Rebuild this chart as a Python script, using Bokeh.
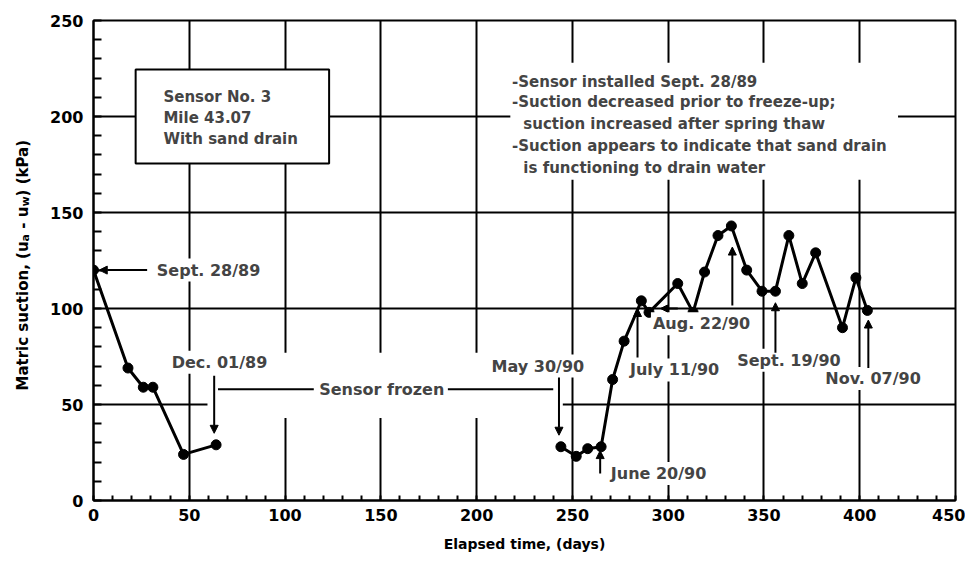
import math
from bokeh.plotting import figure
from bokeh.layouts import row
from bokeh.models import Label, Arrow, NormalHead, SingleIntervalTicker, Range1d
from bokeh.core.properties import value
from bokeh.embed import file_html
from bokeh.resources import INLINE

# ---------------- data ----------------
days_fall = [0, 18, 26, 31, 47, 64]
suction_fall = [120, 69, 59, 59, 24, 29]
days_thaw = [244, 252, 258, 265, 271, 277, 286, 290, 305, 313, 319, 326, 333,
             341, 349, 356, 363, 370, 377, 391, 398, 404]
suction_thaw = [28, 23, 27, 28, 63, 83, 104, 98, 113, 98, 119, 138, 143,
                120, 109, 109, 138, 113, 129, 90, 116, 99]

x_ticks_interval = 50
y_ticks_interval = 50

date_labels = ["Sept. 28/89", "Dec. 01/89", "May 30/90", "June 20/90",
               "July 11/90", "Aug. 22/90", "Sept. 19/90", "Nov. 07/90"]
box_lines = ["Sensor No. 3", "Mile 43.07", "With sand drain"]
note_lines = ["-Sensor installed Sept. 28/89",
              "-Suction decreased prior to freeze-up;",
              "suction increased after spring thaw",
              "-Suction appears to indicate that sand drain",
              "is functioning to drain water"]
ylabel_pieces = ["Matric suction, (u", "a", "- u", "w", ") (kPa)"]

FONT = "DejaVu Sans"
H = 555
LW = 40  # width of the strip holding the y-axis title
FRAME_TOP, FRAME_BOTTOM = 20, 500

p = figure(width=965 - LW, height=H, x_range=Range1d(0, 450), y_range=Range1d(0, 250),
           output_backend="svg", toolbar_location=None,
           min_border_left=93 - LW, min_border_right=10, min_border_top=FRAME_TOP,
           min_border_bottom=H - FRAME_BOTTOM)
p.background_fill_color = "white"
p.border_fill_color = "white"
p.outline_line_color = "black"
p.outline_line_width = 2

# grids
p.xgrid.ticker = SingleIntervalTicker(interval=x_ticks_interval)
p.ygrid.ticker = SingleIntervalTicker(interval=y_ticks_interval)
for g in (p.xgrid, p.ygrid):
    g.grid_line_color = "black"
    g.grid_line_width = 2
    g.grid_line_alpha = 1.0

# axes
p.xaxis.ticker = SingleIntervalTicker(interval=x_ticks_interval, num_minor_ticks=5)
p.yaxis.ticker = SingleIntervalTicker(interval=y_ticks_interval, num_minor_ticks=5)
for ax in (p.xaxis, p.yaxis):
    ax.axis_line_color = "black"
    ax.axis_line_width = 2
    ax.major_tick_in = 0
    ax.major_tick_out = 0
    ax.minor_tick_out = 0
    ax.minor_tick_line_color = "black"
    ax.minor_tick_line_width = 2
    ax.major_label_text_font = FONT
    ax.major_label_text_font_style = "bold"
    ax.major_label_text_font_size = "16px"
    ax.major_label_text_color = "black"
p.xaxis.minor_tick_in = 5
p.yaxis.minor_tick_in = 8
p.xaxis.major_label_standoff = 8
p.yaxis.major_label_standoff = 10
p.xaxis.axis_label = "Elapsed time, (days)"
p.xaxis.axis_label_text_font = FONT
p.xaxis.axis_label_text_font_style = "bold"
p.xaxis.axis_label_text_font_size = "14px"
p.xaxis.axis_label_text_color = "black"
p.xaxis.axis_label_standoff = 12

# white masks that interrupt the grid (as in the drafted original)
p.quad(left=[217.6], right=[420], bottom=[167], top=[228], fill_color="white", line_color=None)
p.quad(left=[59.5], right=[245], bottom=[43], top=[77], fill_color="white", line_color=None)

# info box
p.quad(left=[22], right=[123], bottom=[175.5], top=[224.5], fill_color="white",
       line_color="black", line_width=2)
for i, t in enumerate(box_lines):
    p.add_layout(Label(x=36.5, y=210.4 - i * 11, text=t, text_font=FONT, text_font_style="bold",
                       text_font_size="15px", text_baseline="middle", text_align="left"))

# notes
note_y = [218, 207.5, 196, 184.7, 173.4]
note_x = [218.5, 218.5, 224.4, 218.5, 224.4]
for t, xx, yy in zip(note_lines, note_x, note_y):
    p.add_layout(Label(x=xx, y=yy, text=t, text_font=FONT, text_font_style="bold",
                       text_font_size="15px", text_baseline="middle", text_align="left"))

# data
p.line(days_fall, suction_fall, line_color="black", line_width=3)
p.line(days_thaw, suction_thaw, line_color="black", line_width=3)
p.scatter(days_fall, suction_fall, size=10, fill_color="black", line_color="black")
p.scatter(days_thaw, suction_thaw, size=10, fill_color="black", line_color="black")

# "Sensor frozen" lines
p.segment(x0=[65, 185], y0=[58, 58], x1=[115, 240], y1=[58, 58], line_color="black", line_width=2)
p.add_layout(Label(x=150.5, y=58, text="Sensor frozen", text_font=FONT, text_font_style="bold",
                   text_font_size="16px", text_baseline="middle", text_align="center"))

# date annotations: (label x, label y, align, arrow x0, y0, x1, y1)
ann = [
    (32, 120, "left", 28, 120, 3, 120),
    (65.8, 72, "center", 63, 65, 63, 35),
    (232, 70, "center", 243, 64, 243, 34),
    (269, 14, "left", 264.5, 14, 264.5, 26),
    (279, 68, "left", 284, 74.5, 284, 100),
    (291, 92, "left", 333.5, 101.5, 333.5, 132),
    (335, 73, "left", 356, 77, 356, 103),
    (381, 63.5, "left", 404.5, 69, 404.5, 94),
]
for t, (lx, ly, al, ax0, ay0, ax1, ay1) in zip(date_labels, ann):
    p.add_layout(Label(x=lx, y=ly, text=t, text_font=FONT, text_font_style="bold",
                       text_font_size="16px", text_baseline="middle", text_align=al,
                       background_fill_color="white", padding=2))
    p.add_layout(Arrow(x_start=ax0, y_start=ay0, x_end=ax1, y_end=ay1, line_width=2,
                       line_color="black",
                       end=NormalHead(size=8, fill_color="black", line_color="black")))
p.add_layout(Arrow(x_start=305, y_start=100, x_end=296, y_end=100, line_width=2, line_color="black",
                   end=NormalHead(size=7, fill_color="black", line_color="black")))

# y-axis title strip (built from pieces for the subscripts).
# Its frame is aligned with the main frame by the row layout, so map the
# range to page pixels measured from the bottom of the figure.
lab = figure(width=LW, height=H, x_range=Range1d(0, LW),
             y_range=Range1d(H - FRAME_BOTTOM, H - FRAME_TOP),
             x_axis_type=None, y_axis_type=None, output_backend="svg", toolbar_location=None,
             min_border=0)
lab.outline_line_color = None
lab.grid.visible = False
lab.background_fill_color = "white"
lab.border_fill_color = "white"
sizes = [15, 11, 15, 11, 15]
advance = [149.1, 7.4 + 5.2, 22.2, 10.2, 57.0]   # approximate advance widths (px), incl. gaps
shifts = [0, 3, 0, 3, 0]
ypos = H - 390
for txt, fs, adv, sh in zip(ylabel_pieces, sizes, advance, shifts):
    lab.text(x=[22 + sh], y=[ypos], text=[txt], angle=math.pi / 2, text_font=value(FONT),
             text_font_style="bold", text_font_size=value(f"{fs}px"), text_color="black",
             text_baseline="middle", text_align="left")
    ypos += adv

open("out.html", "w").write(file_html(row(lab, p), INLINE))
